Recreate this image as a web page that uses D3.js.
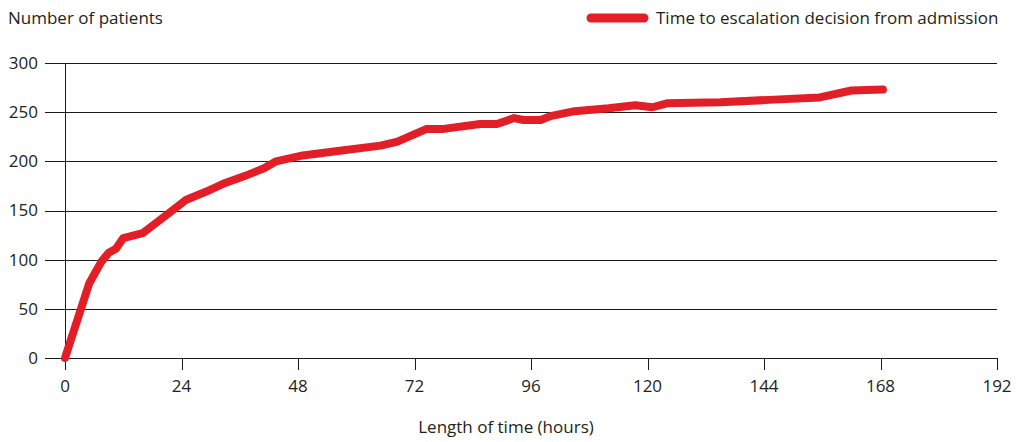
<!DOCTYPE html>
<html><head><meta charset="utf-8">
<script src="https://cdn.jsdelivr.net/npm/d3@7"></script>
<style>body{margin:0;background:#fff;} text{font-family:"Open Sans",sans-serif;fill:#231f20;}</style>
</head><body>
<svg id="c" width="1019" height="442"></svg>
<script>
const hours = [0, 5, 7.5, 9, 10.5, 12, 16, 20, 25, 29, 33, 37, 41, 43.5, 49, 57, 65, 68.5, 74.5, 78, 85.5, 89, 92.5, 94.5, 98, 100, 105, 112, 117.5, 121, 124, 135, 145, 155.5, 162, 168.5];
const patients = [0, 76, 98, 107, 111, 122, 127, 142, 161, 169, 178, 185, 193, 200, 206, 211, 216, 220, 233, 233, 238, 238, 244, 242, 242, 246, 251, 254, 257, 255, 259, 260, 262.5, 265, 272, 273];
const xTicks = [0, 24, 48, 72, 96, 120, 144, 168, 192];
const yTicks = [0, 50, 100, 150, 200, 250, 300];
const seriesName = "Time to escalation decision from admission";
const yTitle = "Number of patients";
const xTitle = "Length of time (hours)";

const svg = d3.select("#c");
const x = d3.scaleLinear().domain([0, 192]).range([65, 997]);
const y = d3.scaleLinear().domain([0, 300]).range([358, 63]);
const red = "#e31e26";
const fs = 17;

svg.append("g").selectAll("line").data(yTicks).join("line")
  .attr("x1", 45).attr("x2", 997)
  .attr("y1", d => Math.round(y(d)) + 0.5).attr("y2", d => Math.round(y(d)) + 0.5)
  .attr("stroke", "#1a1a1a").attr("stroke-width", 1);
svg.append("line").attr("x1", 65.5).attr("x2", 65.5).attr("y1", y(300)).attr("y2", y(0))
  .attr("stroke", "#1a1a1a");
svg.append("g").selectAll("text").data(yTicks).join("text")
  .attr("x", 38).attr("y", d => y(d)).attr("dy", "0.35em")
  .attr("text-anchor", "end").attr("font-size", fs).text(d => d);

svg.append("g").selectAll("line").data(xTicks).join("line")
  .attr("x1", d => Math.round(x(d)) + 0.5).attr("x2", d => Math.round(x(d)) + 0.5)
  .attr("y1", 358).attr("y2", 370).attr("stroke", "#1a1a1a");
svg.append("g").selectAll("text").data(xTicks).join("text")
  .attr("x", d => x(d)).attr("y", 392).attr("text-anchor", "middle")
  .attr("font-size", fs).text(d => d);

svg.append("text").attr("x", 8).attr("y", 24).attr("font-size", fs).text(yTitle);
svg.append("text").attr("x", 506).attr("y", 433).attr("text-anchor", "middle").attr("font-size", fs).text(xTitle);

const line = d3.line().x((d, i) => x(hours[i])).y(d => y(d));
svg.append("path").datum(patients).attr("d", line)
  .attr("fill", "none").attr("stroke", red).attr("stroke-width", 8)
  .attr("stroke-linejoin", "round").attr("stroke-linecap", "round");

svg.append("line").attr("x1", 591).attr("x2", 644).attr("y1", 18).attr("y2", 18)
  .attr("stroke", red).attr("stroke-width", 9).attr("stroke-linecap", "round");
svg.append("text").attr("x", 656).attr("y", 24).attr("font-size", fs).text(seriesName);
</script>
</body></html>
